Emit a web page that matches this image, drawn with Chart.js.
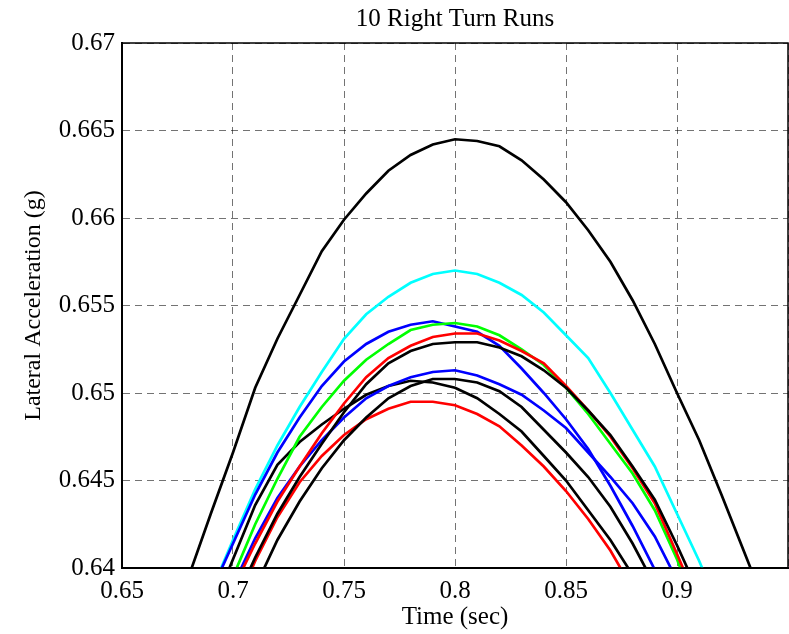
<!DOCTYPE html>
<html>
<head>
<meta charset="utf-8">
<title>10 Right Turn Runs</title>
<script src="https://cdn.jsdelivr.net/npm/chart.js@4.4.1/dist/chart.umd.min.js"></script>
<style>
  html, body { margin: 0; padding: 0; background: #fff; }
  canvas { display: block; }
</style>
</head>
<body>
<canvas id="chart" width="789" height="634"></canvas>
<script>
// sample times (sec)
const time = [0.67, 0.68, 0.69, 0.70, 0.71, 0.72, 0.73, 0.74, 0.75, 0.76, 0.77, 0.78, 0.79, 0.80,
              0.81, 0.82, 0.83, 0.84, 0.85, 0.86, 0.87, 0.88, 0.89, 0.90, 0.91, 0.92, 0.93, 0.94];

// lateral acceleration (g) for the 10 runs
const runBlackHigh = [0.6358, 0.6395, 0.6431, 0.6466, 0.6503, 0.6531, 0.6556, 0.6581, 0.6599, 0.6614, 0.6627, 0.6636, 0.6642, 0.6645,
                      0.6644, 0.6641, 0.6633, 0.6622, 0.6609, 0.6593, 0.6575, 0.6553, 0.6528, 0.6500, 0.6473, 0.6442, 0.6410, 0.6378];
const runCyan = [null, null, 0.6386, 0.6416, 0.6445, 0.6470, 0.6492, 0.6512, 0.6531, 0.6545, 0.6555, 0.6563, 0.6568, 0.6570,
                 0.6568, 0.6563, 0.6556, 0.6546, 0.6533, 0.6520, 0.6500, 0.6479, 0.6458, 0.6431, 0.6404, 0.6374, null, null];
const runBlue1 = [null, null, 0.6386, 0.6414, 0.6442, 0.6466, 0.6486, 0.6504, 0.6518, 0.6528, 0.6535, 0.6539, 0.6541, 0.6538,
                  0.6535, 0.6527, 0.6514, 0.6500, 0.6485, 0.6468, 0.6447, 0.6424, 0.6399, 0.6372, null, null, null, null];
const runGreen = [null, null, 0.6366, 0.6395, 0.6425, 0.6451, 0.6475, 0.6492, 0.6507, 0.6519, 0.6528, 0.6536, 0.6539, 0.6540,
                  0.6538, 0.6533, 0.6525, 0.6516, 0.6503, 0.6488, 0.6471, 0.6454, 0.6433, 0.6405, 0.6372, null, null, null];
const runRed1 = [null, null, null, 0.6388, 0.6414, 0.6438, 0.6458, 0.6477, 0.6494, 0.6509, 0.6520, 0.6527, 0.6532, 0.6534,
                 0.6534, 0.6530, 0.6524, 0.6517, 0.6504, 0.6490, 0.6475, 0.6457, 0.6437, 0.6408, 0.6378, null, null, null];
const runBlack2 = [null, null, null, 0.6378, 0.6406, 0.6431, 0.6452, 0.6471, 0.6489, 0.6505, 0.6517, 0.6524, 0.6528, 0.6529,
                   0.6529, 0.6526, 0.6521, 0.6513, 0.6503, 0.6490, 0.6476, 0.6458, 0.6439, 0.6413, 0.6385, null, null, null];
const runBlue2 = [null, null, null, 0.6390, 0.6417, 0.6440, 0.6458, 0.6473, 0.6486, 0.6497, 0.6504, 0.6509, 0.6512, 0.6513,
                  0.6510, 0.6505, 0.6499, 0.6490, 0.6480, 0.6466, 0.6452, 0.6437, 0.6418, 0.6393, null, null, null, null];
const runBlack3 = [null, null, null, null, 0.6389, 0.6416, 0.6438, 0.6457, 0.6473, 0.6486, 0.6497, 0.6504, 0.6508, 0.6508,
                   0.6506, 0.6501, 0.6492, 0.6479, 0.6466, 0.6452, 0.6435, 0.6414, 0.6390, null, null, null, null, null];
const runBlack4 = [null, null, 0.6374, 0.6405, 0.6436, 0.6459, 0.6472, 0.6482, 0.6491, 0.6499, 0.6504, 0.6507, 0.6506, 0.6503,
                   0.6497, 0.6488, 0.6478, 0.6464, 0.6450, 0.6433, 0.6416, 0.6396, null, null, null, null, null, null];
const runRed2 = [null, null, null, 0.6375, 0.6404, 0.6429, 0.6449, 0.6464, 0.6476, 0.6485, 0.6491, 0.6495, 0.6495, 0.6493,
                 0.6488, 0.6481, 0.6470, 0.6458, 0.6444, 0.6428, 0.6410, 0.6388, null, null, null, null, null, null];

const xTicks = [0.65, 0.7, 0.75, 0.8, 0.85, 0.9, 0.95];
const xTickLabels = ['0.65', '0.7', '0.75', '0.8', '0.85', '0.9', ''];
const yTicks = [0.64, 0.645, 0.65, 0.655, 0.66, 0.665, 0.67];
const yTickLabels = ['0.64', '0.645', '0.65', '0.655', '0.66', '0.665', '0.67'];

const serif = "'Liberation Serif', 'Times New Roman', serif";

const toPoints = (vals) => time.map((t, i) => ({ x: t, y: vals[i] }));

// first entry ends up drawn on top
const series = [
    [runBlack2, '#000000'],
    [runRed1, '#ff0000'],
    [runGreen, '#00ff00'],
    [runBlue1, '#0000ff'],
    [runBlue2, '#0000ff'],
    [runBlack3, '#000000'],
    [runBlack4, '#000000'],
    [runRed2, '#ff0000'],
    [runCyan, '#00ffff'],
    [runBlackHigh, '#000000']
];

// closed axes box like matlab
const boxPlugin = {
    id: 'box',
    afterDatasetsDraw(chart) {
        const { ctx, chartArea: a } = chart;
        ctx.save();
        ctx.strokeStyle = '#000';
        ctx.lineWidth = 1.5;
        ctx.strokeRect(a.left, a.top, a.right - a.left, a.bottom - a.top);
        ctx.restore();
    }
};

new Chart(document.getElementById('chart'), {
    type: 'line',
    data: {
        datasets: series.map(([vals, color]) => ({
            data: toPoints(vals),
            borderColor: color,
            borderWidth: 2.7,
            pointRadius: 0,
            tension: 0,
            fill: false,
            clip: 0
        }))
    },
    options: {
        responsive: false,
        animation: false,
        devicePixelRatio: 1,
        layout: { padding: { left: 0, right: 1, top: 0, bottom: 0 } },
        plugins: {
            legend: { display: false },
            tooltip: { enabled: false },
            title: {
                display: true,
                fullSize: false,
                text: '10 Right Turn Runs',
                color: '#000',
                font: { family: serif, size: 25, weight: 'normal' },
                padding: { top: 4, bottom: 9 }
            }
        },
        scales: {
            x: {
                type: 'linear',
                min: 0.65,
                max: 0.95,
                afterBuildTicks: (scale) => { scale.ticks = xTicks.map(v => ({ value: v })); },
                afterFit: (scale) => {
                    scale.height = 66;
                    scale.paddingLeft = 0;
                    scale.paddingRight = 0;
                },
                ticks: {
                    autoSkip: false,
                    maxRotation: 0,
                    padding: 8,
                    color: '#000',
                    font: { family: serif, size: 25 },
                    callback: (value, index) => xTickLabels[index]
                },
                grid: { color: 'rgba(0,0,0,0.55)', lineWidth: 1, drawTicks: false },
                border: { display: true, color: '#000', width: 2, dash: [7, 5] },
                title: {
                    display: true,
                    text: 'Time (sec)',
                    color: '#000',
                    font: { family: serif, size: 25 },
                    padding: { top: 0, bottom: 2 }
                }
            },
            y: {
                type: 'linear',
                min: 0.64,
                max: 0.67,
                afterBuildTicks: (scale) => { scale.ticks = yTicks.map(v => ({ value: v })); },
                afterFit: (scale) => { scale.width = 122; },
                ticks: {
                    autoSkip: false,
                    padding: 7,
                    color: '#000',
                    font: { family: serif, size: 25 },
                    callback: (value, index) => yTickLabels[index]
                },
                grid: { color: 'rgba(0,0,0,0.55)', lineWidth: 1, drawTicks: false },
                border: { display: true, color: '#000', width: 2, dash: [7, 5] },
                title: {
                    display: true,
                    text: 'Lateral Acceleration (g)',
                    color: '#000',
                    font: { family: serif, size: 24 },
                    padding: { top: 19, bottom: 0 }
                }
            }
        }
    },
    plugins: [boxPlugin]
});
</script>
</body>
</html>
